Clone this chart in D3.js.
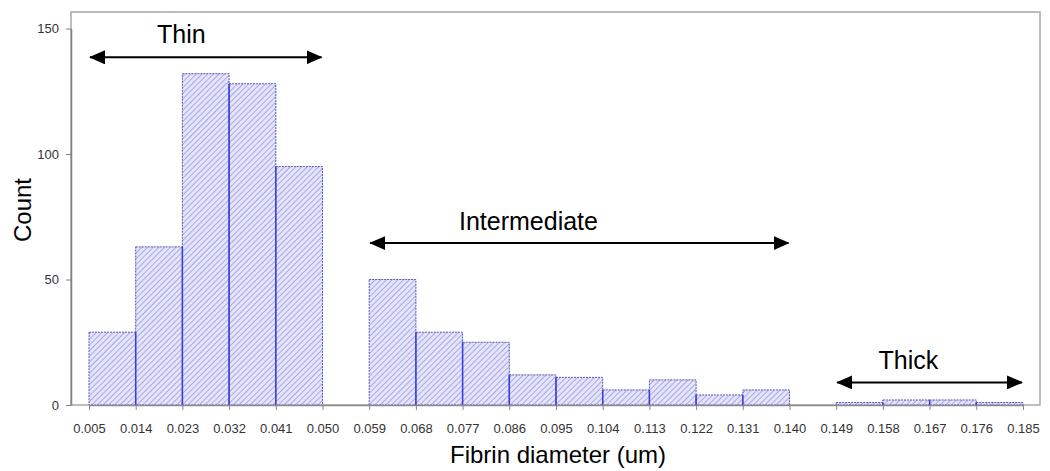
<!DOCTYPE html>
<html>
<head>
<meta charset="utf-8">
<script src="https://cdn.jsdelivr.net/npm/d3@7"></script>
<style>
  body { margin: 0; background: #fff; }
  svg { font-family: "Liberation Sans", Arial, sans-serif; }
</style>
</head>
<body>
<div id="chart"></div>
<script>
// bin edges (um) and counts per bin
const binEdges = [0.005, 0.014, 0.023, 0.032, 0.041, 0.050, 0.059, 0.068, 0.077, 0.086, 0.095,
                  0.104, 0.113, 0.122, 0.131, 0.140, 0.149, 0.158, 0.167, 0.176, 0.185];
const counts = [29, 63, 132, 128, 95, 0, 50, 29, 25, 12, 11, 6, 10, 4, 6, 0, 1, 2, 2, 1];
const yTicks = [0, 50, 100, 150];

// annotation ranges: arrow span, arrow level, label x, label level
const groupNames = ["Thin", "Intermediate", "Thick"];
const groupFrom = [0.005, 0.059, 0.149];
const groupTo = [0.050, 0.140, 0.185];
const arrowLevel = [138.5, 64.5, 9];
const labelX = [0.0228, 0.0897, 0.1629];
const labelLevel = [144.1, 69.6, 14.3];

function drawHistogram() {
  const margin = { top: 12, right: 10, bottom: 66, left: 71 };
  const width = 1050 - margin.left - margin.right;
  const height = 471 - margin.top - margin.bottom;

  const root = d3.select("#chart")
    .append("svg")
    .attr("width", 1050)
    .attr("height", 471);

  const defs = root.append("defs");
  const pat = defs.append("pattern")
    .attr("id", "hatch")
    .attr("patternUnits", "userSpaceOnUse")
    .attr("width", 4)
    .attr("height", 4)
    .attr("patternTransform", "rotate(45)");
  pat.append("rect").attr("width", 4).attr("height", 4).attr("fill", "#e4e4fb");
  pat.append("line")
    .attr("x1", 0).attr("y1", 0).attr("x2", 0).attr("y2", 4)
    .attr("stroke", "#9a9ae6").attr("stroke-width", 1.6);

  defs.append("marker")
    .attr("id", "head")
    .attr("markerUnits", "userSpaceOnUse")
    .attr("viewBox", "0 0 16 14")
    .attr("refX", 15)
    .attr("refY", 7)
    .attr("markerWidth", 16)
    .attr("markerHeight", 14)
    .attr("orient", "auto-start-reverse")
    .append("path")
    .attr("d", "M0,0 L16,7 L0,14 Z")
    .attr("fill", "#000");

  const svg = root.append("g")
    .attr("transform", `translate(${margin.left}, ${margin.top})`);

  const x = d3.scaleLinear()
    .domain([0.005, 0.185])
    .range([18, 952]);

  const y = d3.scaleLinear()
    .domain([0, 150])
    .range([height, 16.5]);

  const bins = counts.map((c, i) => ({ x0: binEdges[i], x1: binEdges[i + 1], count: c }));

  // frame
  svg.append("rect")
    .attr("x", 0).attr("y", 0)
    .attr("width", width).attr("height", height)
    .attr("fill", "none")
    .attr("stroke", "#a8a8a8")
    .attr("stroke-width", 1.5);

  // bars
  svg.append("g")
    .selectAll("rect")
    .data(bins.filter(d => d.count > 0))
    .join("rect")
    .attr("x", d => x(d.x0))
    .attr("y", d => y(d.count))
    .attr("width", d => x(d.x1) - x(d.x0))
    .attr("height", d => y(0) - y(d.count))
    .attr("fill", "url(#hatch)")
    .attr("stroke", "#5858b8")
    .attr("stroke-width", 1)
    .attr("stroke-dasharray", "2,1");

  // shared edges between neighbouring bars are solid
  const shared = bins.slice(1).map((d, i) => ({ at: d.x0, h: Math.min(d.count, bins[i].count) }))
    .filter(d => d.h > 0);
  svg.append("g")
    .selectAll("line")
    .data(shared)
    .join("line")
    .attr("x1", d => x(d.at)).attr("x2", d => x(d.at))
    .attr("y1", y(0)).attr("y2", d => y(d.h))
    .attr("stroke", "#3a3ae0")
    .attr("stroke-width", 1.5);

  // x axis
  const xAxis = svg.append("g")
    .attr("transform", `translate(0,${height})`)
    .call(d3.axisBottom(x).tickValues(binEdges).tickFormat(d3.format(".3f")).tickSize(5).tickSizeOuter(0));
  xAxis.select(".domain").attr("stroke", "#8a8a8a").attr("stroke-width", 1.5);
  xAxis.selectAll(".tick line").attr("stroke", "#8a8a8a");
  xAxis.selectAll("text")
    .attr("font-size", 13).attr("fill", "#333")
    .attr("y", 28).attr("dy", 0);

  // y axis
  const yAxis = svg.append("g")
    .call(d3.axisLeft(y).tickValues(yTicks).tickSize(5).tickSizeOuter(0));
  yAxis.select(".domain").attr("stroke", "#808080").attr("stroke-width", 1.5);
  yAxis.selectAll(".tick line").attr("stroke", "#808080");
  yAxis.selectAll("text").attr("font-size", 13).attr("fill", "#333").attr("x", -12);

  // axis titles
  root.append("text")
    .attr("x", 558).attr("y", 463)
    .attr("text-anchor", "middle")
    .attr("font-size", 24)
    .text("Fibrin diameter (um)");

  root.append("text")
    .attr("transform", "translate(31,210) rotate(-90)")
    .attr("text-anchor", "middle")
    .attr("font-size", 24)
    .text("Count");

  // group annotations
  const groups = groupNames.map((n, i) => ({
    name: n, from: groupFrom[i], to: groupTo[i], level: arrowLevel[i], lx: labelX[i], ll: labelLevel[i]
  }));

  svg.append("g")
    .selectAll("line")
    .data(groups)
    .join("line")
    .attr("x1", d => x(d.from) + 1).attr("x2", d => x(d.to) - 1)
    .attr("y1", d => y(d.level)).attr("y2", d => y(d.level))
    .attr("stroke", "#000")
    .attr("stroke-width", 2)
    .attr("marker-start", "url(#head)")
    .attr("marker-end", "url(#head)");

  svg.append("g")
    .selectAll("text")
    .data(groups)
    .join("text")
    .attr("x", d => x(d.lx))
    .attr("y", d => y(d.ll))
    .attr("text-anchor", "middle")
    .attr("font-size", 25)
    .text(d => d.name);
}

drawHistogram();
</script>
</body>
</html>
